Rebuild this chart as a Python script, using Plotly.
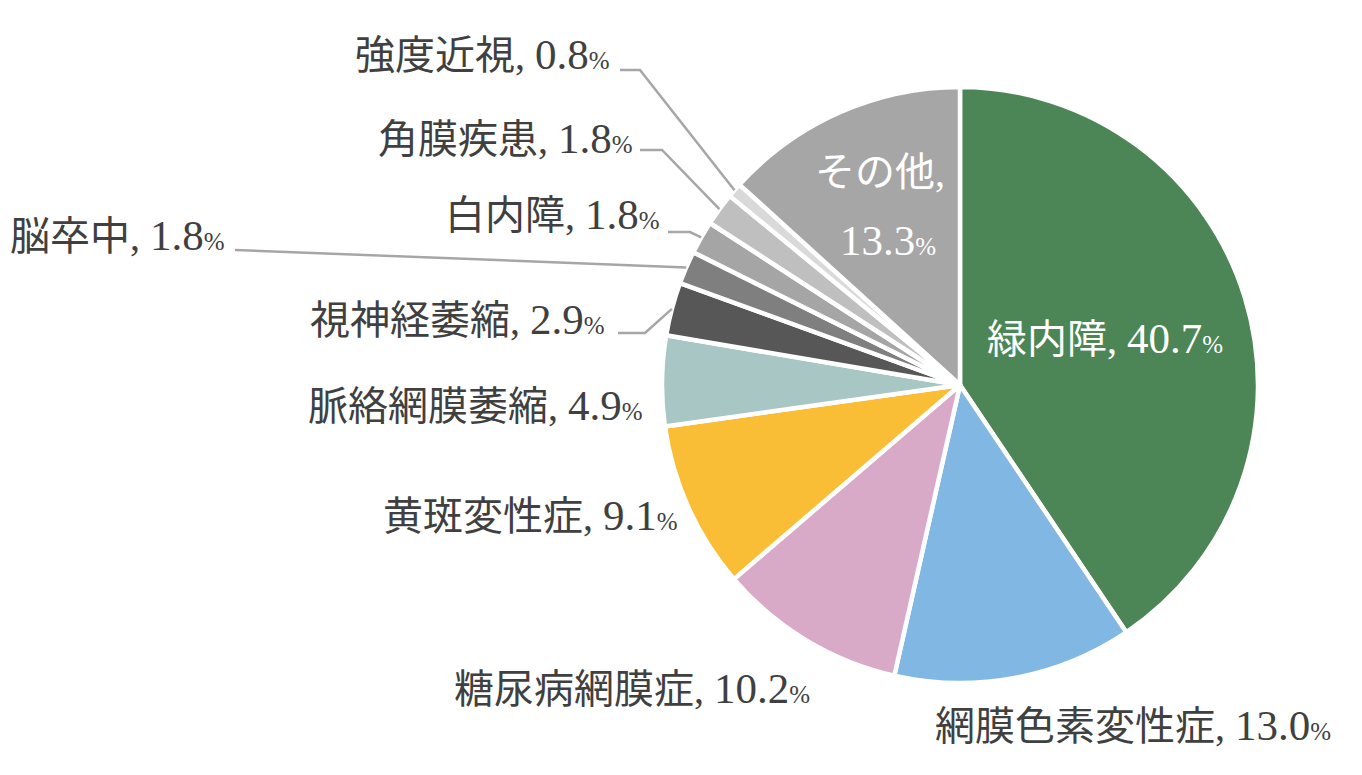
import math
import plotly.graph_objects as go

W, H = 1362, 775

labels = ["緑内障", "網膜色素変性症", "糖尿病網膜症", "黄斑変性症", "脈絡網膜萎縮",
          "視神経萎縮", "脳卒中", "白内障", "角膜疾患", "強度近視", "その他"]
values = [40.7, 13.0, 10.2, 9.1, 4.9, 2.9, 1.8, 1.8, 1.8, 0.8, 13.3]
colors = ["#4C8656", "#80B7E3", "#D8AAC7", "#F9BE36", "#A7C6C4",
          "#575757", "#7F7F7F", "#A5A5A5", "#BFBFBF", "#D9D9D9", "#A6A6A6"]

# pie geometry (pixels)
CX, CY, R = 960, 385, 298


def px(x):
    return x / W


def py(y):
    return 1 - y / H


fig = go.Figure(go.Pie(
    labels=labels, values=values, sort=False, direction="clockwise", rotation=0,
    marker=dict(colors=colors, line=dict(color="white", width=4.5)),
    textinfo="none", hoverinfo="label+percent",
    domain=dict(x=[px(CX - R), px(CX + R)], y=[py(CY + R), py(CY - R)]),
    showlegend=False,
))

FONT = "Liberation Serif, Noto Sans CJK JP, serif"
DARK = "#404040"


def num(v):
    return f"<span style='font-size:43px'>{v:.1f}</span><span style='font-size:25px'>%</span>"


def lab(name, v):
    return f"{name}, " + num(v)


total = sum(values)


def slice_point(i, rf=1.0):
    cum = sum(values[:i]) + values[i] / 2
    th = 2 * math.pi * cum / total
    return CX + R * rf * math.sin(th), CY - R * rf * math.cos(th)


# label layout: (index, x, y, xanchor, color)
placements = [
    (0, 1105, 338, "center", "white"),
    (1, 1133, 725, "center", DARK),
    (2, 632, 688, "center", DARK),
    (3, 680, 515, "right", DARK),
    (4, 645, 405, "right", DARK),
    (5, 607, 320, "right", DARK),
    (6, 118, 235, "center", DARK),
    (7, 662, 215, "right", DARK),
    (8, 635, 138, "right", DARK),
    (9, 612, 55, "right", DARK),
]
for i, x, y, xa, c in placements:
    fig.add_annotation(x=px(x), y=py(y), xref="paper", yref="paper", text=lab(labels[i], values[i]),
                       showarrow=False, xanchor=xa, yanchor="middle",
                       font=dict(family=FONT, size=40, color=c))

# その他 (two lines, inside)
fig.add_annotation(x=px(880), y=py(172), xref="paper", yref="paper", text=f"{labels[10]},",
                   showarrow=False, xanchor="center", yanchor="middle",
                   font=dict(family=FONT, size=40, color="white"))
fig.add_annotation(x=px(888), y=py(240), xref="paper", yref="paper", text=num(values[10]),
                   showarrow=False, xanchor="center", yanchor="middle",
                   font=dict(family=FONT, size=40, color="white"))

# leader lines: (index, start x, elbow x, y)
leaders = [
    (9, 620, 640, 70),
    (8, 640, 662, 150),
    (7, 668, 690, 232),
    (5, 618, 645, 333),
]
LC = "#A6A6A6"
for i, x0, x1, y in leaders:
    ex, ey = slice_point(i, 1.0)
    fig.add_shape(type="path", xref="paper", yref="paper",
                  path=f"M {px(x0)} {py(y)} L {px(x1)} {py(y)} L {px(ex)} {py(ey)}",
                  line=dict(color=LC, width=2.5))
ex, ey = slice_point(6, 1.0)
fig.add_shape(type="line", xref="paper", yref="paper", x0=px(235), y0=py(250), x1=px(ex), y1=py(ey),
              line=dict(color=LC, width=2.5))

fig.update_layout(width=W, height=H, margin=dict(l=0, r=0, t=0, b=0),
                  paper_bgcolor="white", plot_bgcolor="white")
fig.write_html("out.html")
